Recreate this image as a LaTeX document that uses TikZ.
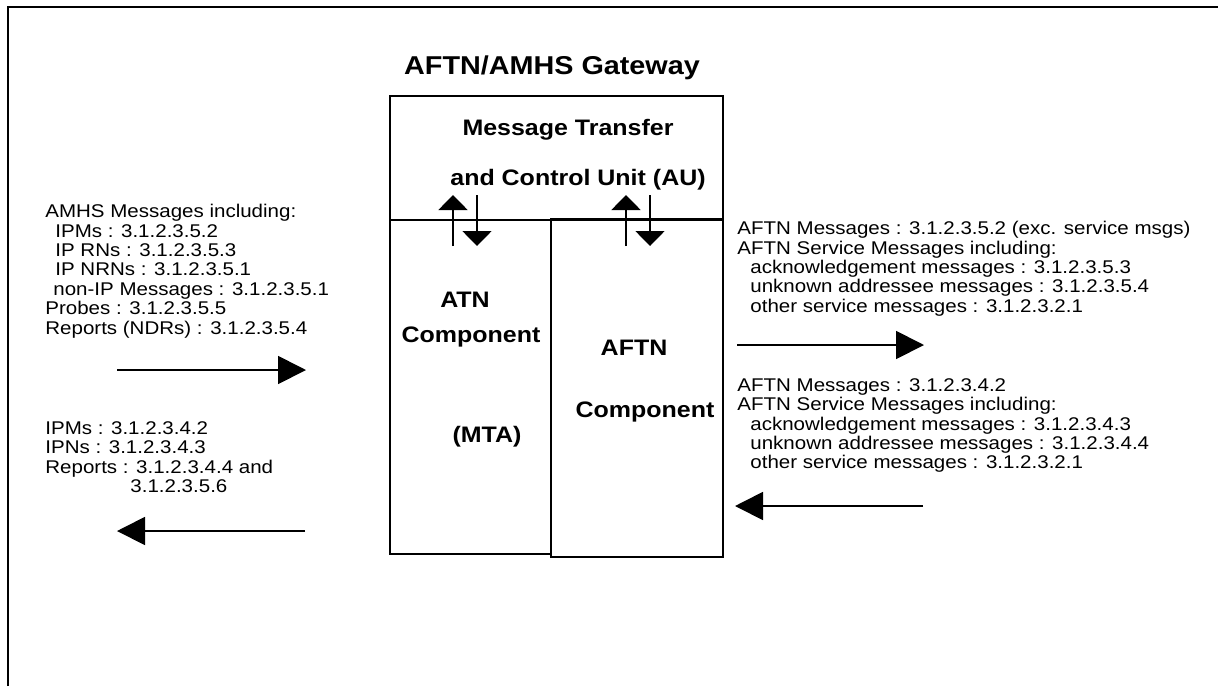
\documentclass[tikz,border=0pt]{standalone}
\usepackage{fontspec}
\setmainfont{Liberation Sans}[FakeStretch=1.115]
\usetikzlibrary{arrows.meta,positioning}
\tikzstyle{box}=[draw, line width=1pt, inner sep=0pt]
\tikzstyle{flow}=[-{Triangle[length=14pt,width=14pt]}, line width=0.9pt]
\tikzstyle{link}=[-{Triangle[length=7.5pt,width=14.5pt]}, line width=0.9pt]
\tikzset{msgs/.style={anchor=north west, align=left, inner sep=0pt, font=\fontsize{9.2pt}{9.7pt}\selectfont}}
\tikzset{label/.style={inner sep=0pt, font=\fontsize{11.2pt}{13pt}\selectfont\bfseries}}
\tikzset{y=-0.5pt}
\tikzset{x=0.5pt}
\begin{document}
\begin{tikzpicture}
  \useasboundingbox (0,0) rectangle (1218,686);
  \draw[line width=1pt] (8,686) -- (8,7) -- (1218,7);

  \draw (552,68) node[inner sep=0pt,font=\fontsize{12.9pt}{15pt}\selectfont\bfseries] (title) {AFTN/AMHS Gateway};

  %% the three boxes
  \draw (556.5,158) node[box,minimum width=166.5pt,minimum height=62pt] (AU) {};
  \draw (470.5,387) node[box,minimum width=80.5pt,minimum height=167pt] (ATN) {};
  \draw (637,388) node[box,minimum width=86pt,minimum height=169pt] (AFTN) {};

  \draw (568,130) node[label] (au1) {Message Transfer};
  \draw (578,180) node[label] (au2) {and Control Unit (AU)};
  \draw (465,300) node[label] (atn1) {ATN};
  \draw (471,337) node[label] (atn2) {Component};
  \draw (487,437) node[label] (atn3) {(MTA)};
  \draw (634,348) node[label] (aftn1) {AFTN};
  \draw (645,412) node[label] (aftn2) {Component};

  %% links between AU and components
  \coordinate (upA0) at (453,246);  \coordinate (upA1) at (453,195);
  \coordinate (dnA0) at (477,195);  \coordinate (dnA1) at (477,246);
  \coordinate (upB0) at (626,246);  \coordinate (upB1) at (626,195);
  \coordinate (dnB0) at (650,195);  \coordinate (dnB1) at (650,246);
  \draw[link] (upA0) -- (upA1);
  \draw[link] (dnA0) -- (dnA1);
  \draw[link] (upB0) -- (upB1);
  \draw[link] (dnB0) -- (dnB1);

  %% message lists
  \draw (45,204) node[msgs] (amhsin) {AMHS Messages including:\\
    \hspace*{5pt}IPMs : 3.1.2.3.5.2\\
    \hspace*{5pt}IP RNs : 3.1.2.3.5.3\\
    \hspace*{5pt}IP NRNs : 3.1.2.3.5.1\\
    \hspace*{4pt}non-IP Messages : 3.1.2.3.5.1\\
    Probes : 3.1.2.3.5.5\\
    Reports (NDRs) : 3.1.2.3.5.4};
  \draw (45,421) node[msgs] (amhsout) {IPMs : 3.1.2.3.4.2\\
    IPNs : 3.1.2.3.4.3\\
    Reports : 3.1.2.3.4.4 and\\
    \hspace*{42.5pt}3.1.2.3.5.6};
  \draw (737,221) node[msgs] (aftnout) {AFTN Messages : 3.1.2.3.5.2 (exc. service msgs)\\
    AFTN Service Messages including:\\
    \hspace*{6.5pt}acknowledgement messages : 3.1.2.3.5.3\\
    \hspace*{6.5pt}unknown addressee messages : 3.1.2.3.5.4\\
    \hspace*{6.5pt}other service messages : 3.1.2.3.2.1};
  \draw (737,378) node[msgs] (aftnin) {AFTN Messages : 3.1.2.3.4.2\\
    AFTN Service Messages including:\\
    \hspace*{6.5pt}acknowledgement messages : 3.1.2.3.4.3\\
    \hspace*{6.5pt}unknown addressee messages : 3.1.2.3.4.4\\
    \hspace*{6.5pt}other service messages : 3.1.2.3.2.1};

  %% flows
  \coordinate (L1a) at (117,370);  \coordinate (L1b) at (306,370);
  \coordinate (L2a) at (305,531);  \coordinate (L2b) at (117,531);
  \coordinate (R1a) at (737,345);  \coordinate (R1b) at (924,345);
  \coordinate (R2a) at (923,506);  \coordinate (R2b) at (735,506);
  \draw[flow] (L1a) -- (L1b);
  \draw[flow] (L2a) -- (L2b);
  \draw[flow] (R1a) -- (R1b);
  \draw[flow] (R2a) -- (R2b);
\end{tikzpicture}
\end{document}
